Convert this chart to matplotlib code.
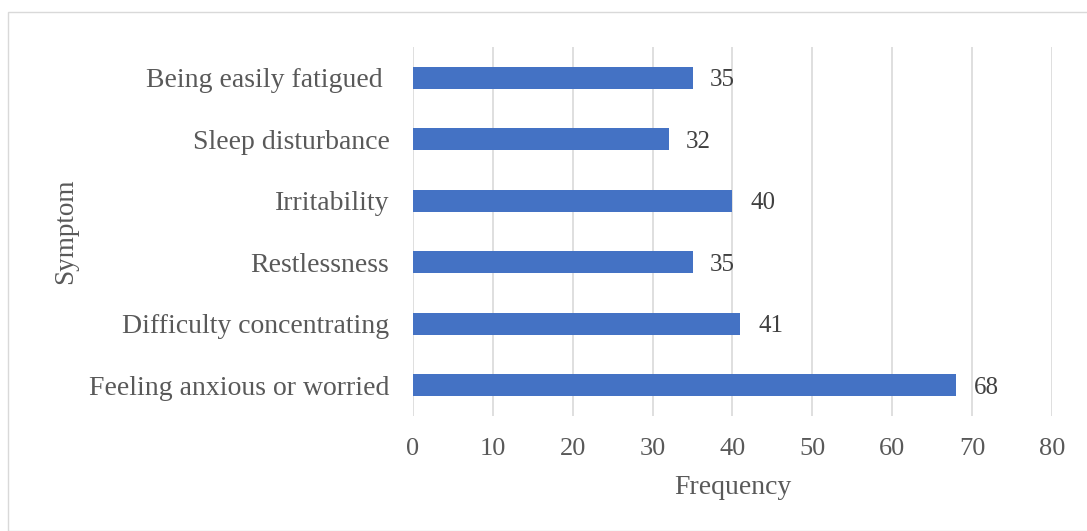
import matplotlib.pyplot as plt
from matplotlib.patches import Rectangle

# Symptom frequencies
symptoms = ["Feeling anxious or worried", "Difficulty concentrating", "Restlessness",
            "Irritability", "Sleep disturbance", "Being easily fatigued "]
frequency = [68, 41, 35, 40, 32, 35]
x_ticks = [0, 10, 20, 30, 40, 50, 60, 70, 80]

plt.rcParams['font.family'] = ['Liberation Serif', 'DejaVu Serif']

fig = plt.figure(figsize=(10.87, 5.31), dpi=100)
ax = fig.add_axes([0.38, 0.2166, 0.5877, 0.6949])

bar_color = '#4472C4'
bars = ax.barh(range(len(symptoms)), frequency, height=0.36, color=bar_color, zorder=3)

for i, v in enumerate(frequency):
    ax.text(v + 2.2, i - 0.04, str(v), va='center', ha='left', fontsize=18, color='#404040')

ax.set_xlim(0, 80)
ax.set_ylim(-0.5, len(symptoms) - 0.5)
ax.set_xticks(x_ticks)
ax.set_yticks(range(len(symptoms)))
ax.set_yticklabels(symptoms)
ax.tick_params(axis='y', length=0, pad=17, labelsize=20, labelcolor='#595959')
ax.tick_params(axis='x', length=0, pad=16, labelsize=19, labelcolor='#595959')

ax.grid(axis='x', color='#d9d9d9', linewidth=1.2, zorder=0)
for spine in ax.spines.values():
    spine.set_visible(False)

ax.set_xlabel("Frequency", fontsize=20, color='#595959', labelpad=11)
fig.text(0.06, 0.565, "Symptom", rotation=90, fontsize=19.5, color='#595959',
         ha='center', va='center')

# light frame around the chart area
fig.patches.append(Rectangle((8 / 1087, 0), 1.1, 1 - 12 / 531, transform=fig.transFigure,
                             fill=False, edgecolor='#d9d9d9', linewidth=1.0))

fig.savefig("out.png", dpi=100)
